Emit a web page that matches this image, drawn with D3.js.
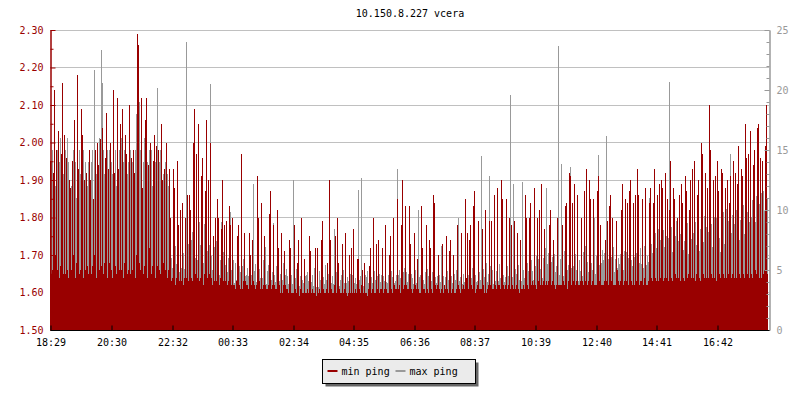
<!DOCTYPE html>
<html lang="en">
<head>
<meta charset="utf-8">
<title>10.150.8.227 vcera</title>
<script src="https://cdn.jsdelivr.net/npm/d3@7"></script>
<style>
body { margin: 0; background: #fff; }
text { font-family: "DejaVu Sans Mono", monospace; font-size: 10px; }
</style>
</head>
<body>
<script>

var title = "10.150.8.227 vcera";
var seriesNames = ["min ping", "max ping"];
var timeLabels = ["18:29", "20:30", "22:32", "00:33", "02:34", "04:35", "06:36", "08:37", "10:39", "12:40", "14:41", "16:42"];
var stepMinutes = 2;

// min ping (left axis), one value every 2 minutes from 18:29
var minPing = [
  1.95,1.65,1.66,1.92,2.14,1.70,1.98,1.66,2.03,1.64,1.67,1.97,2.16,1.65,2.02,1.65,1.96,1.66,1.64,1.90,
  1.88,1.66,1.95,1.70,2.06,1.64,1.68,2.18,1.93,1.65,1.66,2.09,2.02,1.64,1.90,1.66,1.92,1.67,1.65,1.98,
  1.90,1.65,1.67,1.85,1.70,1.98,1.64,2.00,1.94,1.66,2.01,1.67,2.04,1.65,1.68,1.96,2.08,1.64,1.93,1.68,
  2.00,1.66,1.64,2.14,1.92,1.67,1.65,2.12,1.93,1.66,2.05,1.66,2.09,1.64,1.68,2.02,1.97,1.65,1.66,2.10,
  1.65,1.96,1.66,1.98,1.92,1.64,1.70,2.29,2.26,1.68,1.66,2.12,1.88,1.65,1.67,2.06,2.12,1.64,1.94,1.72,
  2.00,1.65,1.67,1.95,2.02,1.64,1.99,1.67,1.98,1.66,1.65,2.05,1.90,1.68,1.93,1.66,2.00,1.64,1.66,1.93,
  1.80,1.63,1.64,1.93,1.88,1.62,1.64,1.95,1.78,1.63,1.82,1.63,1.84,1.62,1.64,1.80,1.64,1.86,1.63,1.86,
  1.82,1.64,1.63,2.00,2.09,1.65,1.97,1.64,2.05,1.63,1.64,1.91,1.96,1.62,1.65,1.87,2.06,1.64,1.90,1.65,
  2.00,1.64,1.62,1.75,1.63,1.80,1.63,1.85,1.80,1.62,1.64,1.77,1.90,1.63,1.78,1.63,1.79,1.62,1.63,1.83,
  1.78,1.62,1.80,1.62,1.62,1.61,1.63,1.75,1.78,1.62,1.61,1.97,1.61,1.63,1.76,1.63,1.62,1.62,1.61,1.76,
  1.70,1.62,1.74,1.63,1.62,1.61,1.62,1.91,1.80,1.63,1.61,1.84,1.61,1.62,1.75,1.62,1.61,1.61,1.62,1.81,
  1.87,1.61,1.62,1.78,1.62,1.61,1.61,1.82,1.72,1.62,1.60,1.76,1.60,1.62,1.71,1.62,1.61,1.61,1.60,1.74,
  1.72,1.60,1.60,1.60,1.78,1.61,1.60,1.68,1.74,1.59,1.61,1.80,1.60,1.60,1.69,1.60,1.60,1.61,1.60,1.75,
  1.71,1.60,1.61,1.60,1.60,1.72,1.59,1.72,1.60,1.61,1.60,1.74,1.79,1.61,1.60,1.60,1.61,1.68,1.60,1.90,
  1.74,1.61,1.60,1.60,1.62,1.75,1.60,1.80,1.68,1.61,1.60,1.60,1.73,1.60,1.61,1.76,1.60,1.59,1.60,1.70,
  1.60,1.72,1.60,1.77,1.60,1.61,1.60,1.69,1.69,1.61,1.60,1.62,1.66,1.60,1.68,1.60,1.60,1.59,1.61,1.67,
  1.72,1.60,1.61,1.80,1.60,1.60,1.73,1.61,1.74,1.60,1.61,1.61,1.72,1.60,1.61,1.78,1.61,1.60,1.60,1.70,
  1.75,1.61,1.60,1.80,1.62,1.61,1.61,1.85,1.61,1.62,1.60,1.78,1.90,1.61,1.62,1.83,1.62,1.61,1.61,1.83,
  1.73,1.61,1.60,1.61,1.76,1.62,1.61,1.69,1.61,1.60,1.60,1.83,1.72,1.61,1.61,1.60,1.78,1.61,1.60,1.74,
  1.72,1.61,1.60,1.86,1.84,1.62,1.61,1.62,1.70,1.61,1.60,1.61,1.73,1.60,1.62,1.61,1.75,1.61,1.60,1.71,
  1.74,1.60,1.61,1.70,1.60,1.60,1.61,1.78,1.62,1.61,1.60,1.76,1.61,1.62,1.61,1.85,1.64,1.76,1.61,1.74,
  1.78,1.62,1.61,1.83,1.87,1.60,1.61,1.62,1.79,1.61,1.61,1.61,1.77,1.62,1.60,1.82,1.60,1.61,1.62,1.79,
  1.62,1.79,1.61,1.61,1.86,1.62,1.61,1.88,1.62,1.62,1.61,1.90,1.85,1.62,1.61,1.62,1.85,1.61,1.62,1.80,
  1.61,1.78,1.62,1.61,1.79,1.61,1.62,1.76,1.61,1.60,1.74,1.61,1.61,1.62,1.61,1.86,1.80,1.62,1.61,1.80,
  1.84,1.62,1.63,1.62,1.88,1.62,1.61,1.80,1.63,1.82,1.62,1.89,1.62,1.63,1.77,1.62,1.63,1.62,1.63,1.78,
  1.82,1.62,1.63,1.74,1.62,1.61,1.62,1.80,1.62,1.62,1.62,1.62,1.78,1.63,1.62,1.83,1.84,1.61,1.63,1.92,
  1.91,1.62,1.84,1.63,1.89,1.62,1.63,1.86,1.62,1.62,1.63,1.80,1.63,1.62,1.87,1.63,1.93,1.62,1.63,1.90,
  1.85,1.62,1.63,1.85,1.62,1.62,1.62,1.87,1.91,1.63,1.78,1.62,1.62,1.62,1.63,1.74,1.63,1.79,1.62,1.83,
  1.86,1.63,1.80,1.62,1.62,1.62,1.79,1.66,1.63,1.62,1.63,1.82,1.89,1.62,1.63,1.85,1.63,1.84,1.62,1.87,
  1.90,1.63,1.62,1.84,1.62,1.86,1.63,1.93,1.86,1.62,1.63,1.63,1.85,1.62,1.64,1.88,1.62,1.62,1.63,1.84,
  1.88,1.64,1.63,1.84,1.93,1.64,1.63,1.86,1.63,1.89,1.64,1.90,1.88,1.63,1.64,1.92,1.64,1.85,1.63,1.82,
  1.95,1.64,1.63,1.88,1.85,1.65,1.64,1.80,1.64,1.86,1.63,1.89,1.84,1.64,1.63,1.91,1.87,1.64,1.65,1.82,
  1.90,1.64,1.93,1.64,1.95,1.63,1.65,1.86,1.90,1.64,1.63,2.00,1.97,1.65,1.64,1.92,1.64,1.88,1.64,2.10,
  1.98,1.65,1.64,1.90,1.64,1.91,1.63,1.95,1.87,1.65,1.64,1.93,1.92,1.65,1.64,1.88,1.64,1.90,1.65,1.84,
  1.91,1.64,1.65,1.95,1.64,1.92,1.64,1.89,1.99,1.65,1.64,1.93,1.91,1.65,1.64,2.05,1.96,1.65,1.97,1.64,
  2.03,1.65,1.64,1.94,1.98,1.66,1.65,2.04,2.05,1.64,1.96,1.64,1.95,1.65,1.66,1.99,2.10,1.65
];

// max ping (right axis)
var maxPing = [
  9,14,15,8,10,12,8,15,8,14,16,9,7,13,9,15,10,16,14,8,
  9,12,9,15,8,14,11,10,9,15,13,8,10,15,9,14,9,12,14,8,
  9,14,15,10,21.7,9,13,8,9,16,8,23.3,20.6,15,13,9,10,15,8,15,
  9,14,13,8,10,15,12,8,9,15,8,16,8,14,15,10,9,13,14,8,
  15,8,14,9,10,15,18,20,17,19,15,9,10,14,16,8,9,14,9,15,
  8,15,12,10,9,14,8,20.2,10,14,15,8,9,13,9,14,10,13,12,8,
  4.5,6.0,5.2,3.8,5.2,7.0,5.5,4.0,6.0,4.8,5.0,5.2,5.5,6.4,5.1,3.9,24,6,7.2,4.4,
  6.3,7.5,8.2,5.0,7.5,6.0,5.0,5.8,4.6,9.0,7.1,6.5,8.0,5.6,8.8,5.3,4.8,6.6,5.0,7.1,
  20.5,6.2,5.0,5.6,6.9,5.3,7.4,6.2,5.3,4.6,5.8,9.0,7.0,6.5,5.0,5.4,6.4,4.8,6.0,5.1,
  9.8,5.0,4.4,5.8,3.9,5.6,4.2,4.8,6.6,5.3,4.8,4.0,5.3,5.9,4.1,4.5,4.6,5.2,4.5,3.5,
  5.4,4.6,4.2,12.2,4.9,5.5,4.0,6.0,3.7,5.1,4.3,5.5,4.3,5.8,4.4,6.9,3.8,4.9,5.4,4.6,
  5.0,4.2,4.8,8.9,4.6,4.0,5.3,4.4,5.8,4.1,4.7,3.9,4.2,5.6,4.0,4.6,5.1,4.5,3.8,4.4,
  4.0,4.6,3.8,12.5,3.6,4.3,5.1,4.4,5.0,3.7,4.5,3.8,4.2,3.9,4.2,4.5,4.6,4.8,4.1,3.9,
  4.8,4.0,4.6,3.7,5.2,4.0,3.6,4.1,3.6,4.9,4.2,4.5,3.9,4.4,3.8,5.4,4.2,4.1,4.7,3.7,
  4.4,3.9,4.5,3.8,8.4,4.0,4.8,4.0,5.1,3.7,4.2,4.6,4.3,5.0,3.9,4.7,3.9,4.4,4.1,4.5,
  4.7,4.0,4.6,4.2,3.9,4.3,3.8,4.6,11.7,4.2,4.5,12.7,4.0,3.7,4.1,4.6,4.4,4.9,3.9,5.0,
  3.8,4.4,3.9,4.3,4.9,4.2,3.8,4.5,4.1,4.7,4.0,4.6,3.8,4.5,4.1,5.3,4.0,3.9,4.6,3.7,
  4.5,4.9,4.4,4.2,3.9,4.1,4.6,13.4,4.6,5.0,4.3,5.1,4.0,4.8,5.2,4.4,4.8,4.0,4.7,5.5,
  4.2,4.7,4.3,3.8,4.6,5.0,3.9,5.1,10.0,4.4,4.6,4.0,3.7,4.2,3.8,4.8,4.3,5.1,4.5,3.6,
  5.0,4.1,4.8,4.1,3.8,4.4,3.9,4.5,5.2,4.6,4.0,7.0,3.9,4.5,3.7,4.4,3.6,4.9,4.2,4.8,
  4.0,4.5,3.9,5.5,4.7,4.2,5.0,4.3,9.3,4.1,4.4,4.6,3.8,4.7,4.0,4.9,4.2,3.8,4.6,3.6,
  5.0,4.3,5.2,4.4,3.9,4.6,4.0,4.1,5.3,4.8,4.2,14.5,4.0,5.1,4.4,3.7,5.6,4.0,4.7,12.8,
  5.3,4.4,5.0,3.8,4.7,4.1,4.9,5.8,4.1,5.5,4.3,6.2,5.0,4.6,4.0,4.4,3.9,5.3,4.5,5.2,
  19.6,4.8,4.4,12.2,4.6,5.1,4.7,3.9,5.4,4.2,4.6,4.1,12.3,5.0,4.3,4.5,3.8,5.6,4.9,6.0,
  5.0,5.8,4.9,4.2,6.1,5.3,6.2,4.6,5.9,4.8,5.1,5.4,4.3,6.0,4.7,6.8,11.8,5.5,6.4,4.5,
  5.2,5.7,6.1,4.0,6.3,4.8,5.3,4.7,23.7,4.6,5.9,13.8,5.1,4.5,6.6,4.2,6.0,5.0,5.4,4.4,
  13.6,5.2,4.6,5.3,4.8,6.3,5.0,6.2,4.1,5.8,4.9,5.6,4.5,6.5,5.1,7.0,4.9,5.7,4.8,5.8,
  4.3,5.6,5.0,6.4,9.3,4.7,6.2,5.1,14.6,5.4,4.9,5.6,6.7,5.8,6.4,5.0,16.2,5.1,5.9,4.4,
  5.5,6.1,5.2,6.9,4.8,5.9,4.7,5.2,6.0,5.5,6.3,4.4,5.7,5.0,6.6,4.9,6.5,5.1,6.0,5.3,
  4.6,5.8,5.3,7.2,6.1,4.9,6.4,4.8,6.3,5.6,6.8,5.5,4.7,5.2,7.0,6.1,5.4,6.2,5.7,11.0,
  6.0,7.2,6.4,9.3,5.2,8.1,6.8,7.1,8.4,6.0,7.5,5.6,6.6,8.3,6.9,4.9,7.8,6.2,7.7,20.7,
  5.5,8.6,6.5,8.8,6.3,7.8,9.1,5.1,7.4,6.2,8.0,6.0,9.0,6.7,7.4,5.4,6.8,8.9,6.3,7.5,
  5.2,7.6,6.0,8.1,6.4,9.0,7.1,5.8,9.2,6.6,8.4,6.1,5.0,7.3,9.5,7.3,8.6,6.4,8.2,6.2,
  5.6,8.8,6.9,7.9,9.4,7.0,9.3,6.5,5.3,7.7,6.5,8.2,6.9,9.8,7.2,7.6,10.1,8.0,9.1,6.0,
  14.7,8.1,9.6,7.2,8.8,7.0,10.0,6.4,9.6,7.5,9.2,7.0,8.3,10.4,8.0,10.2,6.7,9.8,7.3,9.0,
  11.0,9.4,10.8,8.5,7.4,9.0,11.2,10.6,9.2,10.5,8.6,11.4,8.0,11.6,9.9,10.8,9.5,11.0
];

var minColor = "#990000";
var maxColor = "#999999";

var w = 800;
var h = 400;
var plotLeft = 50, plotRight = 768, plotTop = 30, plotBottom = 330;

var svg = d3.select("body")
            .append("svg")
            .attr("width", w)
            .attr("height", h);

var totalMinutes = minPing.length * stepMinutes;

var x = d3.scaleLinear().domain([0, totalMinutes]).rangeRound([plotLeft, plotRight]);
var yL = d3.scaleLinear().domain([1.5, 2.3]).range([plotBottom, plotTop]);
var yR = d3.scaleLinear().domain([0, 25]).range([plotBottom, plotTop]);

// minutes after the first label, wrapping over midnight
function labelMinutes(s) {
  var p = s.split(":");
  var m = (+p[0]) * 60 + (+p[1]);
  var p0 = timeLabels[0].split(":");
  var m0 = (+p0[0]) * 60 + (+p0[1]);
  return (m - m0 + 1440) % 1440;
}

// gridlines
var gridTicks = d3.range(1.6, 2.31, 0.1);
svg.append("g")
   .selectAll("line")
   .data(gridTicks)
   .enter()
   .append("line")
   .attr("x1", plotLeft)
   .attr("x2", plotRight + 1)
   .attr("y1", function(d) { return Math.round(yL(d)) + 0.5; })
   .attr("y2", function(d) { return Math.round(yL(d)) + 0.5; })
   .attr("stroke", "#c0c0c0");

function barX(d, i) { return x(i * stepMinutes); }
function barWidth(d, i) { return x((i + 1) * stepMinutes) - x(i * stepMinutes); }

svg.append("g")
   .attr("shape-rendering", "crispEdges")
   .selectAll("rect")
   .data(maxPing)
   .enter()
   .append("rect")
   .attr("x", barX)
   .attr("y", function(d) { return yR(d); })
   .attr("width", barWidth)
   .attr("height", function(d) { return plotBottom - yR(d); })
   .attr("fill", maxColor);

svg.append("g")
   .attr("shape-rendering", "crispEdges")
   .selectAll("rect")
   .data(minPing)
   .enter()
   .append("rect")
   .attr("x", barX)
   .attr("y", function(d) { return yL(d); })
   .attr("width", barWidth)
   .attr("height", function(d) { return plotBottom - yL(d); })
   .attr("fill", minColor);

// left axis
var leftAxis = svg.append("g")
   .attr("transform", "translate(" + (plotLeft + 0.5) + ",0)")
   .call(d3.axisLeft(yL).tickValues(d3.range(1.5, 2.31, 0.1)).tickFormat(d3.format(".2f"))
           .tickSizeInner(-5).tickSizeOuter(0).tickPadding(7));
leftAxis.append("g").call(d3.axisLeft(yL).tickValues(d3.range(1.55, 2.3, 0.1)).tickFormat("")
           .tickSizeInner(-3).tickSizeOuter(0));
leftAxis.selectAll("path, line").attr("stroke", minColor);
leftAxis.selectAll("text").attr("fill", minColor);

// right axis
var rightAxis = svg.append("g")
   .attr("transform", "translate(" + (plotRight + 1.5) + ",0)")
   .call(d3.axisRight(yR).tickValues(d3.range(0, 26, 5))
           .tickSizeInner(-5).tickSizeOuter(0).tickPadding(7));
rightAxis.append("g").call(d3.axisRight(yR).tickValues(d3.range(0, 26, 1)).tickFormat("")
           .tickSizeInner(-3).tickSizeOuter(0));
rightAxis.selectAll("path, line").attr("stroke", maxColor);
rightAxis.selectAll("text").attr("fill", maxColor);

// time axis
var bottomAxis = svg.append("g")
   .attr("transform", "translate(0.5," + (plotBottom + 0.5) + ")")
   .call(d3.axisBottom(x).tickValues(timeLabels.map(labelMinutes))
           .tickFormat(function(d, i) { return timeLabels[i]; })
           .tickSizeInner(-5).tickSizeOuter(0).tickPadding(8));
bottomAxis.select(".domain").attr("d", "M" + plotLeft + ",0H" + (plotRight + 1));
bottomAxis.selectAll("path, line").attr("stroke", "#000");
bottomAxis.selectAll("text").attr("fill", "#000");

svg.selectAll("g").attr("font-family", null).attr("font-size", null);

svg.append("text")
   .attr("x", (plotLeft + plotRight + 2) / 2)
   .attr("y", 17)
   .attr("text-anchor", "middle")
   .text(title);

// legend
var legend = svg.append("g").attr("transform", "translate(322.5,359.5)");
legend.append("rect").attr("x", 3).attr("y", 3).attr("width", 153).attr("height", 24).attr("fill", "#666");
legend.append("rect").attr("width", 153).attr("height", 24).attr("fill", "#ebebeb").attr("stroke", "#000");
var colors = [minColor, maxColor];
var item = legend.selectAll(".item")
   .data(seriesNames)
   .enter()
   .append("g")
   .attr("transform", function(d, i) { return "translate(" + (5 + i * 68) + ",0)"; });
item.append("line").attr("x1", 0).attr("x2", 10).attr("y1", 11.5).attr("y2", 11.5)
    .attr("stroke-width", 2).attr("stroke", function(d, i) { return colors[i]; });
item.append("text").attr("x", 14).attr("y", 15).text(function(d) { return d; });

</script>
</body>
</html>
